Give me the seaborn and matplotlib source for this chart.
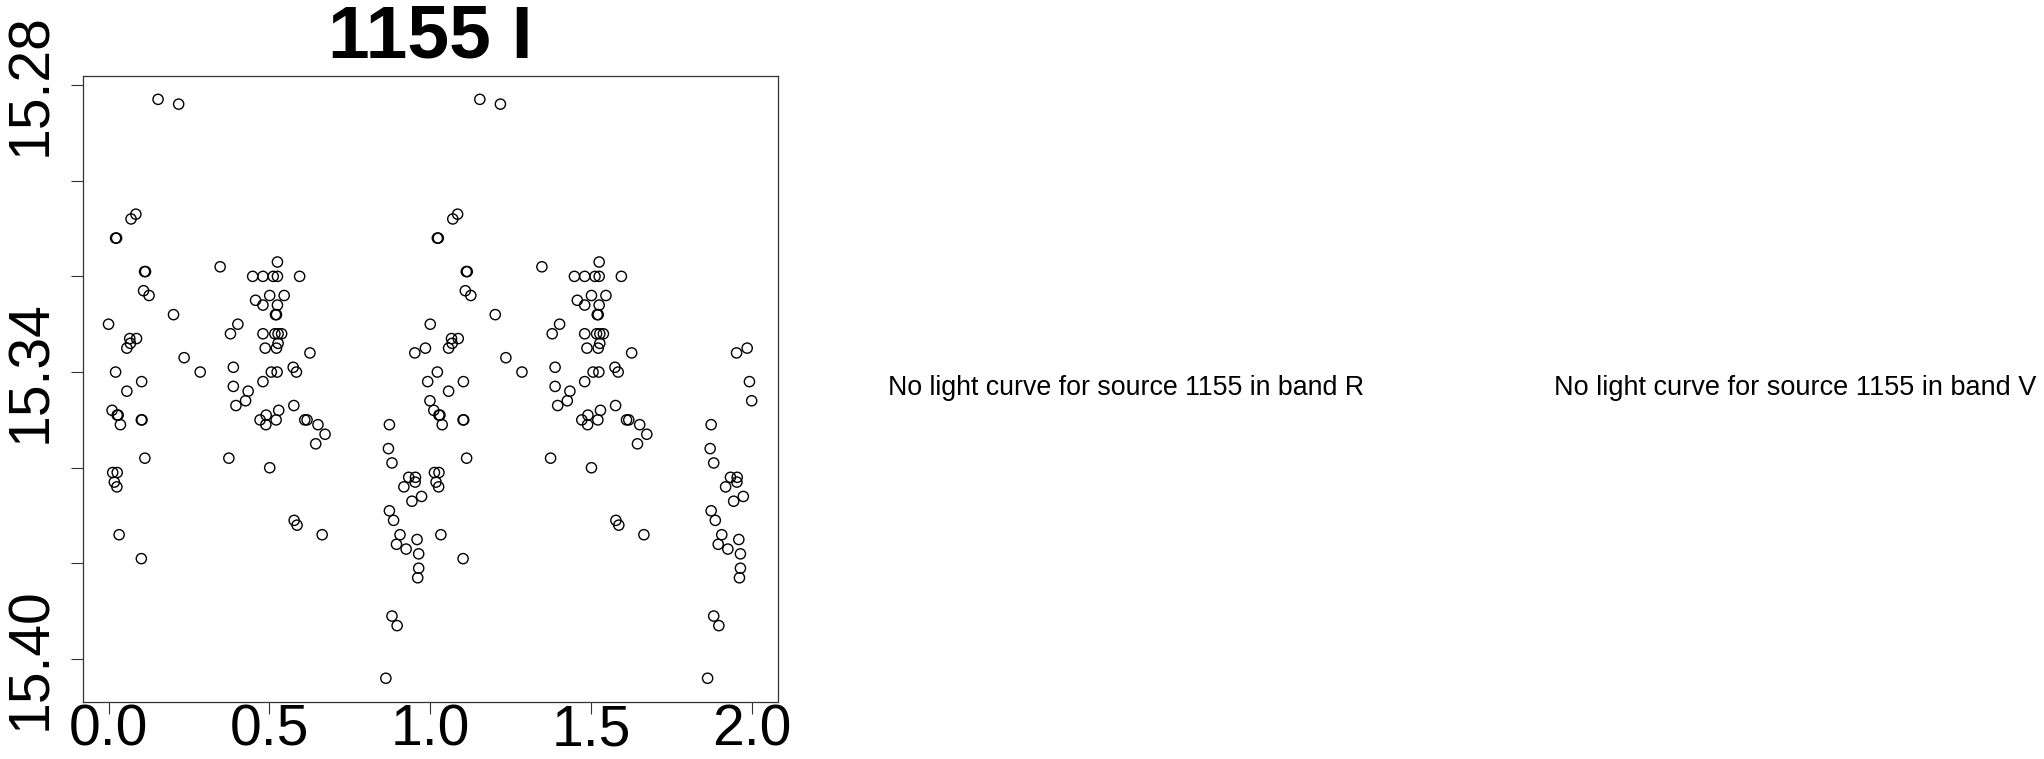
import matplotlib
matplotlib.use("Agg")
import matplotlib.pyplot as plt
import seaborn as sns
import pandas as pd
import numpy as np

# phase-folded light curve of source 1155, band I (phase in [0,1), magnitude)
phase = [0.154, 0.218, 0.085, 0.070, 0.022, 0.025, 0.112, 0.115, 0.109, 0.126,
         0.202, 0.000, 0.066, 0.087, 0.068, 0.057, 0.235, 0.022, 0.285, 0.103,
         0.057, 0.011, 0.027, 0.030, 0.037, 0.102, 0.104, 0.113, 0.013, 0.027,
         0.018, 0.026, 0.033, 0.102,
         0.347, 0.525, 0.448, 0.480, 0.512, 0.525, 0.594, 0.457, 0.480, 0.501,
         0.525, 0.546, 0.519, 0.522, 0.402, 0.379, 0.480, 0.517, 0.527, 0.538,
         0.527, 0.487, 0.522, 0.388, 0.506, 0.524, 0.574, 0.584, 0.626, 0.480,
         0.388, 0.434, 0.396, 0.426, 0.471, 0.490, 0.489, 0.521, 0.529, 0.576,
         0.610, 0.617, 0.651, 0.673, 0.644, 0.374, 0.501, 0.577, 0.586, 0.664,
         0.873, 0.870, 0.881, 0.952, 0.985, 0.992, 0.999, 0.933, 0.954, 0.953,
         0.918, 0.943, 0.973, 0.873, 0.886, 0.906, 0.895, 0.925, 0.959, 0.964,
         0.964, 0.961, 0.881, 0.897, 0.862]
mag = [15.283, 15.284, 15.307, 15.308, 15.312, 15.312, 15.319, 15.319, 15.323, 15.324,
       15.328, 15.330, 15.333, 15.333, 15.334, 15.335, 15.337, 15.340, 15.340, 15.342,
       15.344, 15.348, 15.349, 15.349, 15.351, 15.350, 15.350, 15.358, 15.361, 15.361,
       15.363, 15.364, 15.374, 15.379,
       15.318, 15.317, 15.320, 15.320, 15.320, 15.320, 15.320, 15.325, 15.326, 15.324,
       15.326, 15.324, 15.328, 15.328, 15.330, 15.332, 15.332, 15.332, 15.332, 15.332,
       15.334, 15.335, 15.335, 15.339, 15.340, 15.340, 15.339, 15.340, 15.336, 15.342,
       15.343, 15.344, 15.347, 15.346, 15.350, 15.349, 15.351, 15.350, 15.348, 15.347,
       15.350, 15.350, 15.351, 15.353, 15.355, 15.358, 15.360, 15.371, 15.372, 15.374,
       15.351, 15.356, 15.359, 15.336, 15.335, 15.342, 15.346, 15.362, 15.362, 15.363,
       15.364, 15.367, 15.366, 15.369, 15.371, 15.374, 15.376, 15.377, 15.375, 15.378,
       15.381, 15.383, 15.391, 15.393, 15.404]

source_id = "1155"
band = "I"
missing_bands = ["R", "V"]
x_ticks = [0.0, 0.5, 1.0, 1.5, 2.0]
y_ticks = [15.28, 15.30, 15.32, 15.34, 15.36, 15.38, 15.40]
y_labels = ["15.28", "", "", "15.34", "", "", "15.40"]

df = pd.DataFrame({"phase": phase, "mag": mag})
# plot two cycles
df2 = pd.concat([df, df.assign(phase=df["phase"] + 1)], ignore_index=True)

sns.set_theme(style="ticks")
plt.rcParams["font.family"] = ["Liberation Sans", "DejaVu Sans"]
plt.rcParams["text.color"] = "black"

fig = plt.figure(figsize=(20.44, 7.59), dpi=100)
ax = fig.add_axes([0.0405, 0.0755, 0.34, 0.8245])

sns.scatterplot(data=df2, x="phase", y="mag", marker="o", s=54,
                facecolor="none", edgecolor="black", linewidth=1.0, ax=ax)

ax.set_xlim(-0.08, 2.08)
ax.set_ylim(15.4089, 15.2781)
ax.set_xticks(x_ticks)
ax.set_xticklabels([f"{t:.1f}" for t in x_ticks])
ax.set_yticks(y_ticks)
ax.set_yticklabels(y_labels, rotation=90, va="center")
ax.tick_params(axis="both", direction="out", length=8.5, width=0.8,
               color="#333333", labelsize=41, labelcolor="black")
ax.tick_params(axis="x", pad=-7)
ax.tick_params(axis="y", pad=9)
ax.set_xlabel("")
ax.set_ylabel("")
for sp in ax.spines.values():
    sp.set_visible(True)
    sp.set_color("#333333")
    sp.set_linewidth(0.9)

ax.set_title(f"{source_id} {band}", fontsize=54, fontweight="bold", pad=13,
             color="black")

# the other bands have no data
fig.text(0.551, 0.489, f"No light curve for source {source_id} in band {missing_bands[0]}",
         ha="center", va="center", fontsize=19.3, color="black")
fig.text(0.7603, 0.489, f"No light curve for source {source_id} in band {missing_bands[1]}",
         ha="left", va="center", fontsize=19.5, color="black")

fig.savefig("out.png", dpi=100)
